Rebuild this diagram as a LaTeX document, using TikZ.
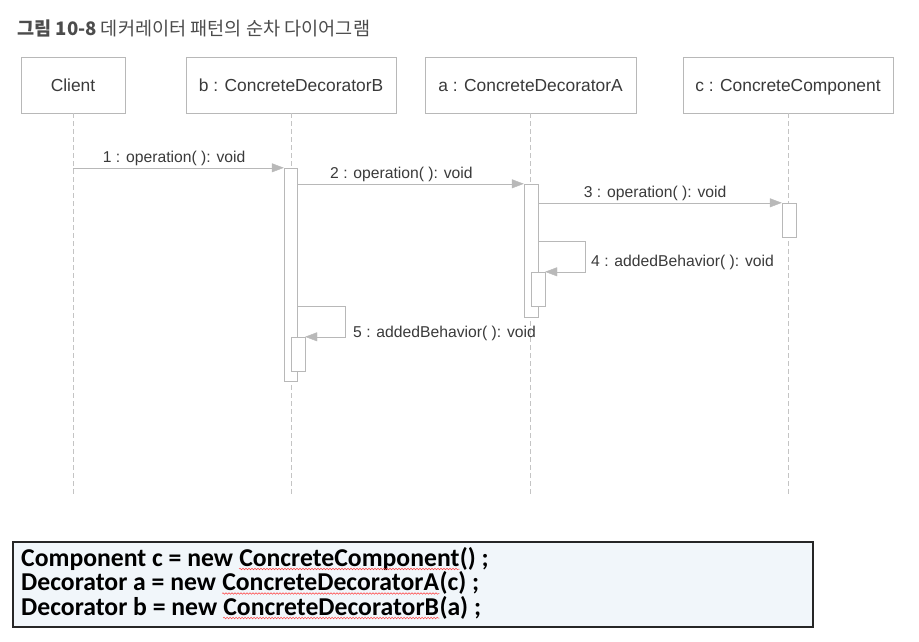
\documentclass[tikz,border=0pt]{standalone}
\usepackage{fontspec}
\usepackage{tikz}
\usetikzlibrary{arrows.meta,decorations.pathmorphing}
\newfontfamily\diafont{Liberation Sans}
\newfontfamily\krfont{Noto Sans CJK KR}
\newfontfamily\codefont{Carlito}
\definecolor{linegray}{HTML}{B8B8B8}
\definecolor{lifegray}{HTML}{C4C4C4}
\definecolor{textgray}{HTML}{3A3A3A}
\definecolor{codefill}{HTML}{F1F6FA}

\begin{document}
\begin{tikzpicture}[x=1pt, y=-1pt,
  font=\diafont, text=textgray,
  head/.style={draw=linegray, fill=white, minimum height=56pt, inner sep=0pt, text height=12.5pt, text depth=0pt, font=\diafont\fontsize{17.4}{20}\selectfont},
  act/.style={draw=linegray, fill=white, inner sep=0pt, minimum width=14pt},
  life/.style={draw=lifegray, dash pattern=on 5pt off 3pt},
  msg/.style={draw=linegray, -{Triangle[length=12pt, width=9pt, fill=gray!55, color=gray!55]}},
  lbl/.style={font=\diafont\fontsize{15.7}{18}\selectfont, inner sep=2pt},
  code/.style={anchor=base west, text=black, inner sep=0pt, font=\codefont\bfseries\fontsize{25.7}{25}\selectfont},
  word/.style={code, xshift=5.8pt},
  squig/.style={draw=red!75, line width=0.5pt, decorate, decoration={snake, amplitude=0.8pt, segment length=3pt}},
]
\useasboundingbox (0,0) rectangle (919,641);
\node[anchor=west, text=black!70, font=\krfont\fontsize{18.6}{22}\selectfont, inner sep=0pt] (title) at (17,28) {\textbf{그림 10-8} 데커레이터 패턴의 순차 다이어그램};
\node[head, minimum width=104pt] (client) at (73,85) {Client};
\node[head, minimum width=210pt] (objB) at (291,85) {b : ConcreteDecoratorB};
\node[head, minimum width=211pt] (objA) at (530.5,85) {a : ConcreteDecoratorA};
\node[head, minimum width=210pt] (objC) at (788,85) {c : ConcreteComponent};
\coordinate (bottom) at (0,497);
\draw[life] (client) -- (client |- bottom);
\draw[life] (objB) -- (objB |- bottom);
\draw[life] (objA) -- (objA |- bottom);
\draw[life] (objC) -- (objC |- bottom);
\node[act, minimum width=13pt, minimum height=213pt] (actB) at (290.5,274.5) {};
\node[act, minimum height=34pt] (actB2) at (298,354) {};
\node[act, minimum height=133pt] (actA) at (531,250.5) {};
\node[act, minimum height=34pt] (actA2) at (538,289) {};
\node[act, minimum height=34pt] (actC) at (789,220) {};
\draw[msg] (client |- actB.north) -- node[lbl, above, pos=0.48] (m1) {1 : operation( ): void} (actB.north west);
\draw[msg] (actB.north east |- actA.north) -- node[lbl, above, pos=0.46] (m2) {2 : operation( ): void} (actA.north west);
\draw[msg] (actA.north east |- actC.north) -- node[lbl, above, pos=0.48] (m3) {3 : operation( ): void} (actC.north west);
\coordinate (s4) at (actA.east |- 0,241);
\draw[msg] (s4) -- ++(47,0) |- (actA2.north east);
\node[lbl, anchor=west] (m4) at (589,262) {4 : addedBehavior( ): void};
\coordinate (s5) at (actB.east |- 0,306);
\draw[msg] (s5) -- ++(48,0) |- (actB2.north east);
\node[lbl, anchor=west] (m5) at (351,333) {5 : addedBehavior( ): void};
\node[draw=black!85, line width=1.4pt, fill=codefill, minimum width=800pt, minimum height=85pt, inner sep=0pt] (codebox) at (413,584.5) {};
\node[code] (p1) at (21,566) {Component c = new};
\node[word] (k1) at (p1.base east) {ConcreteComponent};
\node[code] (e1) at (k1.base east) {() ;};
\node[code] (p2) at (21,590.5) {Decorator a = new};
\node[word] (k2) at (p2.base east) {ConcreteDecoratorA};
\node[code] (e2) at (k2.base east) {(c) ;};
\node[code] (p3) at (21,615) {Decorator b = new};
\node[word] (k3) at (p3.base east) {ConcreteDecoratorB};
\node[code] (e3) at (k3.base east) {(a) ;};
\draw[squig] ([yshift=-3pt]k1.base west) -- ([yshift=-3pt]k1.base east);
\draw[squig] ([yshift=-3pt]k2.base west) -- ([yshift=-3pt]k2.base east);
\draw[squig] ([yshift=-3pt]k3.base west) -- ([yshift=-3pt]k3.base east);
\end{tikzpicture}
\end{document}
